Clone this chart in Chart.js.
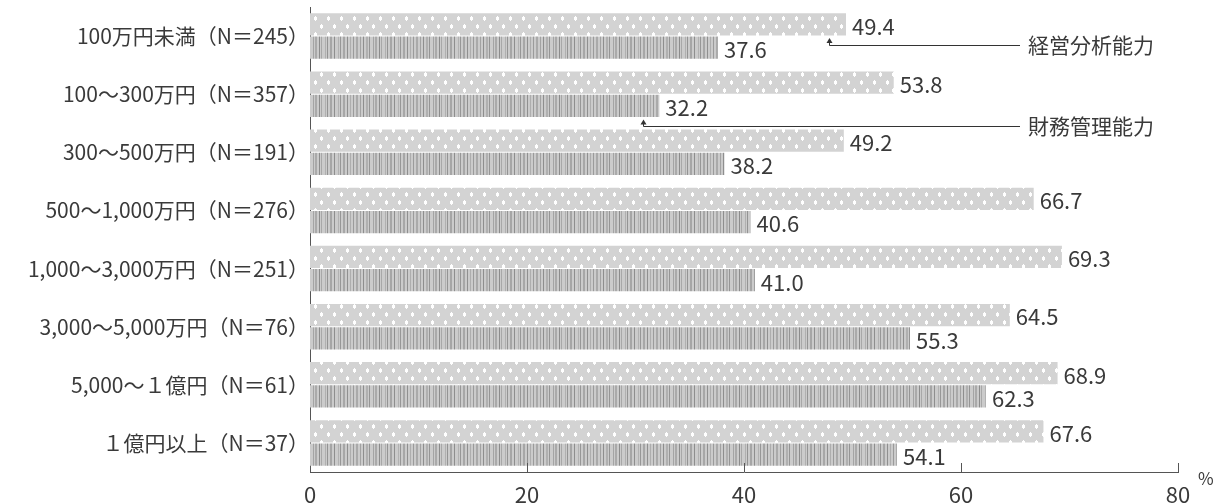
<!DOCTYPE html>
<html lang="ja">
<head>
<meta charset="utf-8">
<script src="https://cdn.jsdelivr.net/npm/chart.js@4.4.1/dist/chart.umd.min.js"></script>
<style>
  html, body { margin: 0; padding: 0; background: #fff; }
  #wrap { position: relative; width: 1220px; height: 504px; }
</style>
</head>
<body>
<div id="wrap"><canvas id="c" width="1220" height="504"></canvas></div>
<script>
// Sales bands with respondent counts
const categories = [
  '100万円未満（N＝245）',
  '100～300万円（N＝357）',
  '300～500万円（N＝191）',
  '500～1,000万円（N＝276）',
  '1,000～3,000万円（N＝251）',
  '3,000～5,000万円（N＝76）',
  '5,000～１億円（N＝61）',
  '１億円以上（N＝37）'
];
const seriesNames = ['経営分析能力', '財務管理能力'];
const analysisValues = [49.4, 53.8, 49.2, 66.7, 69.3, 64.5, 68.9, 67.6];
const financeValues = [37.6, 32.2, 38.2, 40.6, 41.0, 55.3, 62.3, 54.1];
const xTicks = [0, 20, 40, 60, 80];
const unitLabel = '%';

// Callouts naming each series: which bar they point at and where the arrow sits
const calloutCategory = [0, 1];
const calloutDataset = [0, 1];
const calloutArrowValue = [47.8, 30.7];

const FONT = '"Noto Sans CJK JP", "Noto Sans", sans-serif';
const TEXT = '#3a3a3a';

// Dotted fill: white dots on light grey, staggered rows
function makeDotPattern() {
  const c = document.createElement('canvas');
  c.width = 26; c.height = 16;
  const g = c.getContext('2d');
  g.fillStyle = '#d3d3d3';
  g.fillRect(0, 0, 26, 16);
  g.fillStyle = '#ffffff';
  [[2, 1], [15, 1], [8, 9], [21, 9]].forEach(([x, y]) => {
    g.fillRect(x, y, 3, 3);
    g.fillRect(x + 1, y - 1, 1, 5);
  });
  return g.createPattern(c, 'repeat');
}

// Barcode-like fill: irregular darker vertical stripes on grey
function makeStripePattern() {
  const c = document.createElement('canvas');
  c.width = 60; c.height = 8;
  const g = c.getContext('2d');
  g.fillStyle = '#cbcbcb';
  g.fillRect(0, 0, 60, 8);
  const stripes = [[0,1,'#a3a3a3'],[3,1,'#8e8e8e'],[6,2,'#b0b0b0'],[9,1,'#959595'],[13,1,'#a4a4a4'],
    [15,2,'#aaaaaa'],[19,1,'#8c8c8c'],[21,1,'#a8a8a8'],[25,1,'#b0b0b0'],[27,1,'#949494'],
    [30,2,'#a6a6a6'],[34,1,'#8e8e8e'],[38,1,'#b2b2b2'],[40,1,'#979797'],[43,2,'#a7a7a7'],
    [47,1,'#909090'],[50,1,'#aeaeae'],[53,1,'#9b9b9b'],[56,2,'#aaaaaa']];
  stripes.forEach(([x, w, col]) => { g.fillStyle = col; g.fillRect(x, 0, w, 8); });
  return g.createPattern(c, 'repeat');
}

// Value labels, inner x ticks, unit label and the series callouts
const overlay = {
  id: 'overlay',
  afterDraw(chart) {
    const { ctx, chartArea, scales } = chart;
    const xs = scales.x;
    ctx.save();

    // inner tick marks on the x axis
    ctx.strokeStyle = '#555';
    ctx.lineWidth = 1;
    xTicks.forEach(v => {
      if (v === 0) return;
      const x = Math.round(xs.getPixelForValue(v)) + 0.5;
      ctx.beginPath();
      ctx.moveTo(x, chartArea.bottom - 9);
      ctx.lineTo(x, chartArea.bottom);
      ctx.stroke();
    });

    // unit
    ctx.fillStyle = TEXT;
    ctx.font = '17px ' + FONT;
    ctx.textAlign = 'left';
    ctx.textBaseline = 'middle';
    ctx.fillText(unitLabel, chartArea.right + 20, chartArea.bottom + 7);

    // value labels
    ctx.font = '22px ' + FONT;
    chart.data.datasets.forEach((ds, di) => {
      chart.getDatasetMeta(di).data.forEach((bar, i) => {
        ctx.fillText(ds.data[i].toFixed(1), bar.x + 6, bar.y + 2);
      });
    });

    // callouts
    ctx.font = '21px ' + FONT;
    ctx.strokeStyle = '#333';
    ctx.fillStyle = '#333';
    seriesNames.forEach((name, k) => {
      const bar = chart.getDatasetMeta(calloutDataset[k]).data[calloutCategory[k]];
      const barBottom = bar.y + bar.height / 2;
      const ax = Math.round(xs.getPixelForValue(calloutArrowValue[k])) + 0.5;
      const tipY = barBottom + 2.5;
      const lineY = Math.round(barBottom + 9) + 0.5;
      const endX = chartArea.right - 158;
      ctx.beginPath();
      ctx.moveTo(ax, tipY + 3);
      ctx.lineTo(ax, lineY);
      ctx.lineTo(endX, lineY);
      ctx.stroke();
      ctx.beginPath();
      ctx.moveTo(ax, tipY);
      ctx.lineTo(ax - 3, tipY + 5);
      ctx.lineTo(ax + 3, tipY + 5);
      ctx.closePath();
      ctx.fill();
      ctx.fillStyle = TEXT;
      ctx.fillText(name, endX + 8, lineY);
      ctx.fillStyle = '#333';
    });
    ctx.restore();
  }
};

new Chart(document.getElementById('c').getContext('2d'), {
  type: 'bar',
  data: {
    labels: categories,
    datasets: [
      { label: seriesNames[0], data: analysisValues, backgroundColor: makeDotPattern(),
        categoryPercentage: 0.8, barPercentage: 0.96 },
      { label: seriesNames[1], data: financeValues, backgroundColor: makeStripePattern(),
        categoryPercentage: 0.8, barPercentage: 0.96 }
    ]
  },
  options: {
    indexAxis: 'y',
    responsive: false,
    animation: false,
    layout: { padding: { left: 0, right: 42, top: 7, bottom: 0 } },
    plugins: { legend: { display: false }, tooltip: { enabled: false } },
    scales: {
      x: {
        min: 0, max: 80,
        afterBuildTicks: s => { s.ticks = xTicks.map(v => ({ value: v })); },
        grid: { display: false, drawTicks: false },
        border: { display: true, color: '#555', width: 1 },
        ticks: { padding: 9, color: TEXT, maxRotation: 0, font: { family: FONT, size: 22 } },
        afterFit: s => { s.height = 32; s.paddingLeft = 0; s.paddingRight = 0; }
      },
      y: {
        grid: { display: false, drawTicks: false },
        border: { display: true, color: '#555', width: 1 },
        ticks: { padding: 1, color: TEXT, font: { family: FONT, size: 21 } },
        afterFit: s => { s.width = 310; s.paddingTop = 0; s.paddingBottom = 0; }
      }
    }
  },
  plugins: [overlay]
});
</script>
</body>
</html>
